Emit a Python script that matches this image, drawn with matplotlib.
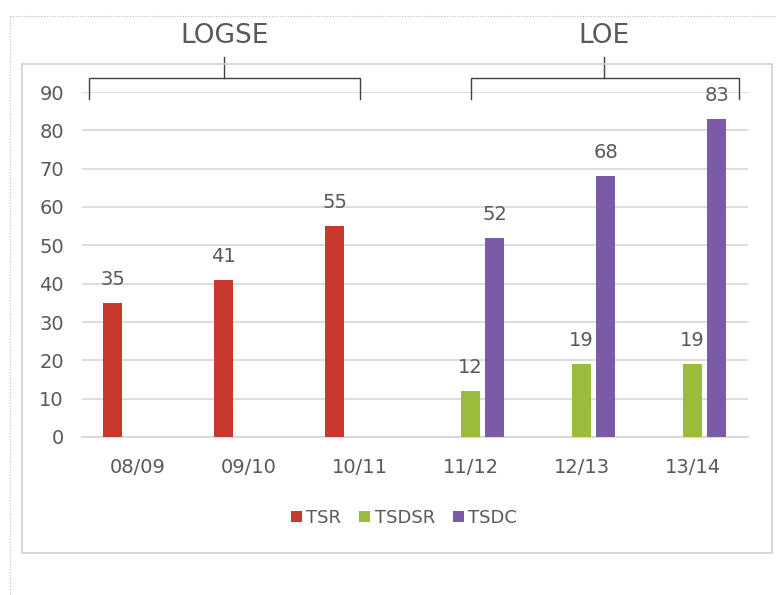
import numpy as np
import matplotlib
matplotlib.use('Agg')
from matplotlib import pyplot as plt
from matplotlib.patches import Rectangle
from matplotlib.lines import Line2D

# datos
cursos = ['08/09', '09/10', '10/11', '11/12', '12/13', '13/14']
tsr = [35, 41, 55, None, None, None]
tsdsr = [None, None, None, 12, 19, 19]
tsdc = [None, None, None, 52, 68, 83]
series = ['TSR', 'TSDSR', 'TSDC']
colores = ['#C8382C', '#9BBB3B', '#7B5BA6']
grupos = ['LOGSE', 'LOE']

gris = '#595959'
plt.rcParams['font.family'] = ['DejaVu Sans']

fig = plt.figure(figsize=(7.77, 5.95), dpi=100)

# marco exterior punteado y marco interior del grafico
fig.add_artist(Line2D([10/777, 10/777], [0, 1 - 16/595], transform=fig.transFigure,
                      color='#BBBBBB', lw=0.8, ls=(0, (1, 1.5))))
fig.add_artist(Line2D([10/777, 1], [1 - 16/595, 1 - 16/595], transform=fig.transFigure,
                      color='#BBBBBB', lw=0.8, ls=(0, (1, 1.5))))
fig.add_artist(Rectangle((22/777, 1 - 553/595), (772 - 22)/777, (553 - 64)/595,
                         transform=fig.transFigure, fill=False, ec='#D0D0D0', lw=1.2))

ax = fig.add_axes([82/777, 1 - 437/595, (748 - 82)/777, (437 - 92)/595])

x = np.arange(len(cursos))
offs = [-0.225, 0.0, 0.218]
w = 0.175
for vals, off, col, nom in zip([tsr, tsdsr, tsdc], offs, colores, series):
    xs = [xi + off for xi, v in zip(x, vals) if v is not None]
    ys = [v for v in vals if v is not None]
    ax.bar(xs, ys, width=w, color=col, label=nom, zorder=3)
    for xi, v in zip(xs, ys):
        ax.annotate(str(v), (xi, v), xytext=(0, 13), textcoords='offset points',
                    ha='center', va='baseline', fontsize=14, color=gris)

ax.set_xlim(-0.5, 5.5)
ax.set_ylim(0, 90)
ax.set_yticks(range(0, 91, 10))
ax.set_xticks(x)
ax.set_xticklabels(cursos)
ax.tick_params(axis='y', length=0, pad=13, labelsize=14, labelcolor=gris)
ax.tick_params(axis='x', length=0, pad=15, labelsize=14, labelcolor=gris)
ax.grid(axis='y', color='#DDDDDD', lw=1.5, zorder=0)
for s in ['top', 'right', 'left']:
    ax.spines[s].set_visible(False)
ax.spines['bottom'].set_color('#D9D9D9')
ax.spines['bottom'].set_linewidth(1.5)

# llaves de LOGSE y LOE
llaves = [(-0.44, 2.0, 0.78), (3.0, 5.42, 4.2)]
for (x0, x1, xc), g in zip(llaves, grupos):
    kw = dict(color='#404040', lw=1.0, clip_on=False, zorder=5)
    ax.plot([x0, x0, x1, x1], [88.3, 93.6, 93.6, 88.3], **kw)
    ax.plot([xc, xc], [93.6, 99.2], **kw)
    ax.text(xc, 102.8, g, ha='center', va='baseline', fontsize=19, color=gris)

leg = ax.legend(loc='center', bbox_to_anchor=(404/777, 1 - 518/595),
                bbox_transform=fig.transFigure, ncol=3, frameon=False,
                fontsize=13, handlelength=0.6, handleheight=0.6,
                handletextpad=0.25, columnspacing=1.0)
for t in leg.get_texts():
    t.set_color(gris)

plt.savefig('out.png', dpi=100)
plt.close()
